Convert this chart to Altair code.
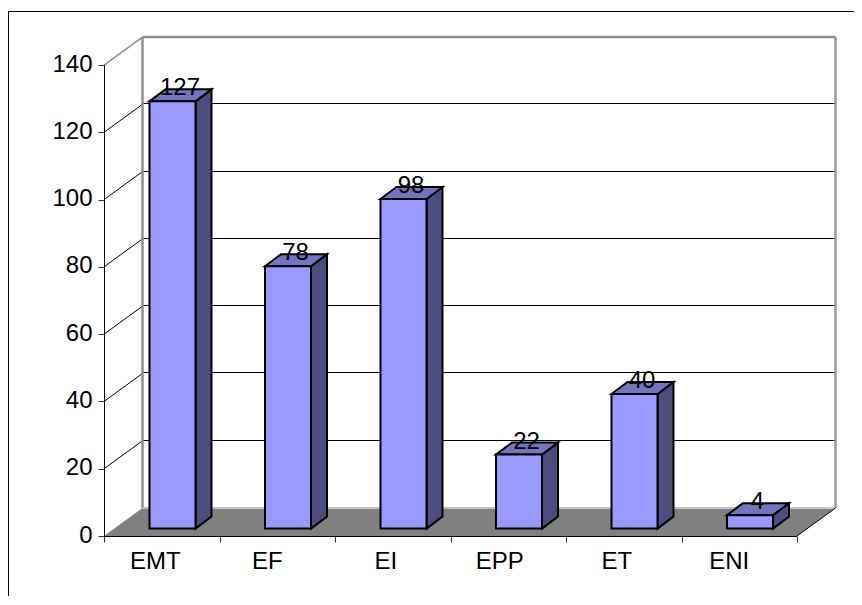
import altair as alt
import pandas as pd

categories = ["EMT", "EF", "EI", "EPP", "ET", "ENI"]
values = [127, 78, 98, 22, 40, 4]
label_shift_px = [-6.5, -10, -7, -8.5, -7, -10]
y_ticks = [0, 20, 40, 60, 80, 100, 120, 140]
x_ticks = [0, 1, 2, 3, 4, 5, 6]

# geometry of the oblique projection, in data units (1 category = 115.5 px, 1 value = 3.364 px)
PX_X, PX_Y = 115.5, 3.364
W_DX, W_DY = 38.5 / PX_X, 28 / PX_Y        # depth of the chart box
B_DX, B_DY = 16 / PX_X, 12 / PX_Y          # depth of a bar
B_OFF, B_W = 45.5 / PX_X, 46 / PX_X        # bar start within its category, bar width
B_BASE = 7.4 / PX_Y                        # bar foot above the front floor edge
YMAX, NCAT = 140, len(categories)

sx = alt.Scale(domain=[0, 731 / PX_X], nice=False, zero=False)
sy = alt.Scale(domain=[0, 500 / PX_Y], nice=False, zero=False)
X = lambda f="x", **k: alt.X(f"{f}:Q", scale=sx, title=None, **k)
Y = lambda f="y", **k: alt.Y(f"{f}:Q", scale=sy, title=None, **k)
X2 = alt.X2("x2:Q")
Y2 = alt.Y2("y2:Q")

FONT = "Liberation Sans"
inner = [t for t in y_ticks if 0 < t < YMAX]
# snap the back-wall lines to the pixel grid so they stay crisp
crisp = lambda v: (round(v * PX_Y) + 0.5) / PX_Y

# back-wall grid and left-wall diagonals (with the axes attached)
back = pd.DataFrame({"x": W_DX, "x2": NCAT + W_DX, "y": [crisp(t + W_DY) for t in inner]})
grid_back = alt.Chart(back).mark_rule(color="#000000", strokeWidth=1).encode(
    x=X(axis=alt.Axis(values=x_ticks, labels=False, domain=False, grid=False, tickSize=6,
                      tickColor="#333333", tickWidth=1)),
    x2=X2,
    y=Y(axis=alt.Axis(values=y_ticks, domain=False, grid=False, tickSize=6, tickColor="#333333",
                      tickWidth=1, labelFont=FONT, labelFontSize=24, labelColor="#000000",
                      labelPadding=6, labelOffset=-1)),
)
diag = pd.DataFrame({"x": 0.0, "x2": W_DX, "y": inner, "y2": [t + W_DY for t in inner]})
grid_diag = alt.Chart(diag).mark_rule(color="#000000", strokeWidth=1).encode(x=X(), x2=X2, y=Y(), y2=Y2)

# floor
floor_df = pd.DataFrame({"y": [0.0, W_DY], "x": [0.0, W_DX], "x2": [float(NCAT), NCAT + W_DX]})
floor = alt.Chart(floor_df).mark_area(orient="horizontal", color="#808080").encode(y=Y(), x=X(), x2=X2)

# wall borders
gray = "#8f8f8f"
walls = pd.DataFrame([
    dict(x=W_DX, x2=W_DX, y=W_DY, y2=YMAX + W_DY, c=gray, w=2.5),
    dict(x=NCAT + W_DX, x2=NCAT + W_DX, y=W_DY, y2=YMAX + W_DY, c="#9a9a9a", w=2.5),
    dict(x=W_DX, x2=NCAT + W_DX, y=YMAX + W_DY, y2=YMAX + W_DY, c=gray, w=2.5),
    dict(x=W_DX, x2=NCAT + W_DX, y=W_DY, y2=W_DY, c="#c4c4c4", w=2),
    dict(x=0.0, x2=W_DX, y=float(YMAX), y2=YMAX + W_DY, c=gray, w=1.5),
    dict(x=float(NCAT), x2=NCAT + W_DX, y=0.0, y2=W_DY, c="#000000", w=1),
    dict(x=0.5 / PX_X, x2=0.5 / PX_X, y=0.0, y2=float(YMAX), c="#000000", w=1),
    dict(x=0.0, x2=float(NCAT), y=-0.5 / PX_Y, y2=-0.5 / PX_Y, c="#000000", w=1),
])
wall_rules = alt.Chart(walls).mark_rule().encode(
    x=X(), x2=X2, y=Y(), y2=Y2,
    color=alt.Color("c:N", scale=None), strokeWidth=alt.StrokeWidth("w:Q", scale=None),
)

# bars
starts = [i + B_OFF for i in range(NCAT)]
front_df = pd.DataFrame({"x": starts, "x2": [s + B_W for s in starts], "y": B_BASE,
                         "y2": [v + B_BASE for v in values]})
side_rows, top_rows = [], []
for cat, s, v in zip(categories, starts, values):
    r = s + B_W
    side_rows += [dict(cat=cat, x=r, y=B_BASE, y2=v + B_BASE),
                  dict(cat=cat, x=r + B_DX, y=B_BASE + B_DY, y2=v + B_BASE + B_DY)]
    top_rows += [dict(cat=cat, y=v + B_BASE, x=s, x2=r),
                 dict(cat=cat, y=v + B_BASE + B_DY, x=s + B_DX, x2=r + B_DX)]
edge = dict(stroke="#000000", strokeWidth=2, strokeJoin="miter")
side = alt.Chart(pd.DataFrame(side_rows)).mark_area(fill="#4d4d80", **edge).encode(
    x=X(), y=Y(), y2=Y2, detail="cat:N")
top = alt.Chart(pd.DataFrame(top_rows)).mark_area(orient="horizontal", fill="#7373bf", **edge).encode(
    y=Y(), x=X(), x2=X2, detail="cat:N")
front = alt.Chart(front_df).mark_rect(fill="#9999ff", **edge).encode(x=X(), x2=X2, y=Y(), y2=Y2)

# value labels, centred on the rear top edge of each bar
lab_df = pd.DataFrame({"x": [s + B_W / 2 + B_DX / 2 for s in starts],
                       "y": [v + B_BASE + B_DY for v in values],
                       "t": [str(v) for v in values]})
val_labels = alt.Chart(lab_df).mark_text(font=FONT, fontSize=24, color="#000000",
                                         baseline="middle", dy=-1, dx=-0.5).encode(x=X(), y=Y(), text="t:N")

# category labels
cat_df = pd.DataFrame({"x": [i + 0.5 + d / PX_X for i, d in enumerate(label_shift_px)], "y": 0.0, "t": categories})
cat_labels = alt.Chart(cat_df).mark_text(font=FONT, fontSize=24, color="#000000",
                                         baseline="middle", dy=26).encode(x=X(), y=Y(), text="t:N")

# outer frame, only its top and left edges fall inside the picture
frame_top = alt.Chart(pd.DataFrame({"a": [0]})).mark_rule(color="#000000", strokeWidth=1).encode(
    x=alt.value(-95.5), x2=alt.value(760), y=alt.value(-24.5))
frame_left = alt.Chart(pd.DataFrame({"a": [0]})).mark_rule(color="#000000", strokeWidth=1).encode(
    x=alt.value(-95.5), y=alt.value(-24.5), y2=alt.value(570))

chart = alt.layer(
    grid_back, grid_diag, floor, wall_rules, side, top, front, val_labels, cat_labels, frame_top, frame_left
).properties(
    width=731, height=500,
    padding={"left": 96, "top": 28, "right": 19, "bottom": 60},
    autosize=alt.AutoSizeParams(type="none"),
    background="#ffffff",
).configure_view(stroke=None)

chart.save("out.html", embed_options={"renderer": "svg", "actions": False})
